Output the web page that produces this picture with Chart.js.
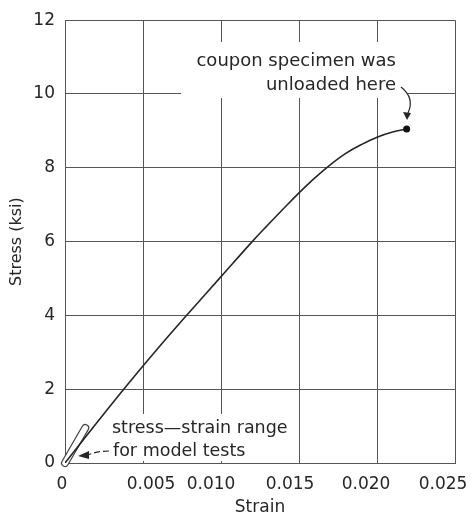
<!DOCTYPE html>
<html>
<head>
<meta charset="utf-8">
<title>Stress–strain curve</title>
<script src="https://cdn.jsdelivr.net/npm/chart.js@4.4.1/dist/chart.umd.min.js"></script>
<style>
  html, body { margin: 0; padding: 0; background: #fff; }
  #wrap { width: 472px; height: 525px; }
</style>
</head>
<body>
<div id="wrap"><canvas id="stressChart"></canvas></div>
<script>
// Coupon test readings: strain (in/in) against stress (ksi)
const strain = [0, 0.002, 0.004, 0.006, 0.008, 0.010, 0.012, 0.013, 0.014, 0.015, 0.016, 0.017, 0.018, 0.019, 0.020, 0.021, 0.0219];
const stress = [0, 1.07, 2.12, 3.13, 4.10, 5.05, 6.00, 6.45, 6.89, 7.32, 7.72, 8.08, 8.39, 8.63, 8.83, 8.97, 9.05];

// Axis ticks
const xTicks = [0, 0.005, 0.010, 0.015, 0.020, 0.025];
const xTickText = ['0', '0.005', '0.010', '0.015', '0.020', '0.025'];
const yTicks = [0, 2, 4, 6, 8, 10, 12];

// Range covered by the model tests (start and end of the band)
const modelStrain = [0, 0.0013];
const modelStress = [0, 0.95];

const ink = '#262626';
const gridInk = '#555';
const font = '"DejaVu Sans", sans-serif';

// Labels and arrows drawn straight on the canvas
const notes = {
    id: 'notes',
    beforeDatasetsDraw(chart) {
        const ctx = chart.ctx;
        const x = chart.scales.x, y = chart.scales.y;
        ctx.save();
        // text sits on a white patch, breaking the grid behind it
        ctx.fillStyle = '#fff';
        ctx.fillRect(181, 42, 226, 56);
        ctx.fillRect(108, 414, 184, 47);

        // outlined band along the curve near the origin
        const x0 = x.getPixelForValue(modelStrain[0]), y0 = y.getPixelForValue(modelStress[0]);
        const x1 = x.getPixelForValue(modelStrain[1]), y1 = y.getPixelForValue(modelStress[1]);
        ctx.lineCap = 'round';
        ctx.strokeStyle = '#444';
        ctx.lineWidth = 8;
        ctx.beginPath(); ctx.moveTo(x0, y0); ctx.lineTo(x1, y1); ctx.stroke();
        ctx.strokeStyle = '#fff';
        ctx.lineWidth = 5.5;
        ctx.beginPath(); ctx.moveTo(x0, y0); ctx.lineTo(x1, y1); ctx.stroke();
        ctx.restore();
    },
    afterDatasetsDraw(chart) {
        const ctx = chart.ctx;
        const x = chart.scales.x;
        ctx.save();
        ctx.fillStyle = ink;
        ctx.strokeStyle = ink;

        // x tick labels, set slightly off their grid lines
        const shift = [-3, 8, -10, -9, -11, -12];
        ctx.font = '17px ' + font;
        ctx.textAlign = 'center';
        ctx.textBaseline = 'middle';
        xTicks.forEach(function(v, i) {
            ctx.fillText(xTickText[i], x.getPixelForValue(v) + shift[i], 485);
        });

        // note at the end of the curve
        ctx.font = '18px ' + font;
        ctx.textBaseline = 'alphabetic';
        ctx.textAlign = 'right';
        ctx.fillText('coupon specimen was', 396, 66);
        ctx.fillText('unloaded here', 396, 90);

        ctx.lineWidth = 1.2;
        ctx.beginPath();
        ctx.moveTo(401, 87);
        ctx.quadraticCurveTo(415, 98, 408, 113);
        ctx.stroke();
        ctx.beginPath();
        ctx.moveTo(407, 120);
        ctx.lineTo(403, 112);
        ctx.lineTo(411, 113);
        ctx.closePath();
        ctx.fill();

        // note for the model test range
        ctx.font = '17.5px ' + font;
        ctx.textAlign = 'left';
        ctx.fillText('stress\u2014strain range', 112, 433);
        ctx.fillText('for model tests', 113, 456);

        ctx.setLineDash([6, 3]);
        ctx.beginPath();
        ctx.moveTo(109, 451);
        ctx.quadraticCurveTo(98, 451, 88, 455);
        ctx.stroke();
        ctx.setLineDash([]);
        ctx.beginPath();
        ctx.moveTo(78, 456);
        ctx.lineTo(89, 451);
        ctx.lineTo(89, 459);
        ctx.closePath();
        ctx.fill();
        ctx.restore();
    }
};

const points = strain.map(function(s, i) {
    return { x: s, y: stress[i] };
});

new Chart(document.getElementById('stressChart'), {
    type: 'line',
    data: {
        datasets: [{
            data: points,
            borderColor: ink,
            borderWidth: 1.6,
            tension: 0.4,
            pointRadius: strain.map(function(s, i) { return i === strain.length - 1 ? 3.5 : 0; }),
            pointBackgroundColor: '#111',
            pointBorderWidth: 0,
            fill: false
        }]
    },
    options: {
        responsive: true,
        maintainAspectRatio: false,
        animation: false,
        events: [],
        layout: { padding: { top: 12, right: 17, left: 0, bottom: 0 } },
        plugins: {
            legend: { display: false },
            tooltip: { enabled: false }
        },
        scales: {
            x: {
                type: 'linear',
                min: xTicks[0],
                max: xTicks[xTicks.length - 1],
                afterFit: function(scale) { scale.height = 62; },
                afterBuildTicks: function(scale) {
                    scale.ticks = xTicks.map(function(v) { return { value: v }; });
                },
                ticks: { display: false },
                grid: { color: gridInk, lineWidth: 1, drawTicks: false },
                border: { color: gridInk, width: 1 },
                title: {
                    display: true,
                    text: 'Strain',
                    color: ink,
                    font: { family: font, size: 17 },
                    padding: { top: 0, bottom: 7 }
                }
            },
            y: {
                min: yTicks[0],
                max: yTicks[yTicks.length - 1],
                afterFit: function(scale) { scale.width = 65; },
                afterBuildTicks: function(scale) {
                    scale.ticks = yTicks.map(function(v) { return { value: v }; });
                },
                ticks: {
                    color: ink,
                    padding: 10,
                    font: { family: font, size: 17 }
                },
                grid: { color: gridInk, lineWidth: 1, drawTicks: false },
                border: { color: gridInk, width: 1 },
                title: {
                    display: true,
                    text: 'Stress (ksi)',
                    color: ink,
                    font: { family: font, size: 16 },
                    padding: { top: 7, bottom: 0 }
                }
            }
        }
    },
    plugins: [notes]
});
</script>
</body>
</html>
